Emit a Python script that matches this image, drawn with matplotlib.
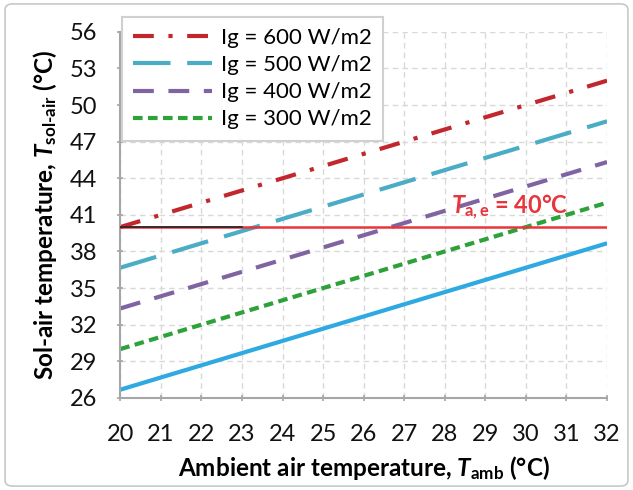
import matplotlib
matplotlib.use("Agg")
import matplotlib.pyplot as plt
from matplotlib.patches import FancyBboxPatch

plt.rcParams['font.family'] = ['Lato', 'DejaVu Sans']
plt.rcParams['mathtext.fontset'] = 'custom'
plt.rcParams['mathtext.rm'] = 'Lato:bold'
plt.rcParams['mathtext.it'] = 'Lato:bold:italic'
plt.rcParams['mathtext.bf'] = 'Lato:bold'

t_amb = [20, 32]
s600 = [40.0, 52.0]
s500 = [36.67, 48.67]
s400 = [33.33, 45.33]
s300 = [30.0, 42.0]
s_base = [26.67, 38.67]
t_limit = 40
labels = ["Ig = 600 W/m2", "Ig = 500 W/m2", "Ig = 400 W/m2", "Ig = 300 W/m2"]
x_ticks = list(range(20, 33))
y_ticks = list(range(26, 57, 3))

fig = plt.figure(figsize=(6.33, 4.9), dpi=100)
fig.patches.append(FancyBboxPatch((0.008, 0.008), 0.984, 0.984, boxstyle="round,pad=0,rounding_size=0.012",
                                  transform=fig.transFigure, fill=False, edgecolor='#c8c8c8', lw=1.2))
ax = fig.add_axes([0.19, 0.188, 0.769, 0.747])

ax.plot(t_amb, s_base, color='#2FA9E2', lw=3, solid_capstyle='butt')
l600, = ax.plot(t_amb, s600, color='#C1272D', lw=3, dashes=(5, 3.5, 1, 3.5), label=labels[0])
l500, = ax.plot(t_amb, s500, color='#4BACC6', lw=3, dashes=(9, 4), label=labels[1])
l400, = ax.plot(t_amb, s400, color='#8064A2', lw=3, dashes=(5, 3.5), label=labels[2])
l300, = ax.plot(t_amb, s300, color='#2EA23A', lw=3, dashes=(2.3, 1.3), label=labels[3])
ax.plot([20, 23], [t_limit, t_limit], color='#222222', lw=1.2, zorder=3)
ax.axhline(t_limit, color='#E8353B', lw=1.8, zorder=2.9)

ax.text(29.6, 40.4, r"$T_{\mathrm{a,e}}$ = 40°C", color='#E8353B', fontsize=17, fontweight='bold',
        ha='center', va='bottom')

ax.set_xlim(20, 32)
ax.set_ylim(26, 56)
ax.set_xticks(x_ticks)
ax.set_yticks(y_ticks)
ax.grid(True, color='#d9d9d9', lw=1, dashes=(4, 3))
ax.set_axisbelow(True)
for s in ['top', 'right']:
    ax.spines[s].set_visible(False)
for s in ['left', 'bottom']:
    ax.spines[s].set_color('#a6a6a6')
    ax.spines[s].set_linewidth(1.5)
ax.tick_params(axis='both', colors='#a6a6a6', width=1.2, length=5, direction='inout', labelsize=17,
               labelcolor='#111111')
ax.tick_params(axis='y', pad=14)
ax.tick_params(axis='x', pad=16)

ax.set_xlabel(r"Ambient air temperature, $T_{\mathrm{amb}}$ (°C)", fontsize=17.5, fontweight='bold', labelpad=7)
ax.set_ylabel(r"Sol-air temperature, $T_{\text{sol-air}}$ (°C)", fontsize=17.5, fontweight='bold', labelpad=8)

leg = fig.legend(handles=[l600, l500, l400, l300], loc='upper left',
                 bbox_to_anchor=(122 / 633, 1 - 17 / 490), bbox_transform=fig.transFigure,
                 borderaxespad=0, fontsize=16, frameon=True, fancybox=False,
                 handlelength=3.55, handletextpad=0.4, borderpad=0.5, labelspacing=0.32,
                 edgecolor='#d0d0d0', framealpha=1)
leg.get_frame().set_linewidth(1.5)
leg.set_zorder(5)

fig.savefig("out.png", dpi=100)
